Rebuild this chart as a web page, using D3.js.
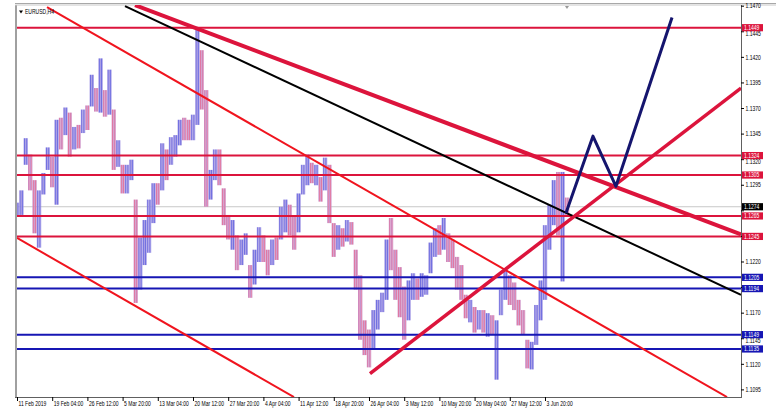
<!DOCTYPE html>
<html><head><meta charset="utf-8">
<script src="https://cdn.jsdelivr.net/npm/d3@7"></script>
<style>html,body{margin:0;padding:0;background:#fff;} svg{display:block;}</style>
</head><body><svg id="c" width="776" height="410"></svg>
<script>
// ---------- data ----------
const symbol = "EURUSD,H4";
const barStep = 4;            // H4 bars per sample
const firstOpen = 1.1268;
const hi = [1.1278,1.1290,1.1341,1.1325,1.1300,1.1290,1.1307,1.1332,1.1323,1.1359,
1.1361,1.1371,1.1366,1.1352,1.1354,1.1369,1.1373,1.1403,1.1390,1.1419,
1.1388,1.1408,1.1369,1.1339,1.1315,1.1315,1.1320,1.1281,1.1244,1.1261,
1.1281,1.1297,1.1297,1.1336,1.1330,1.1342,1.1344,1.1359,1.1361,1.1359,
1.1364,1.1447,1.1427,1.1388,1.1310,1.1330,1.1330,1.1292,1.1266,1.1261,
1.1246,1.1242,1.1248,1.1217,1.1232,1.1254,1.1246,1.1232,1.1242,1.1244,
1.1274,1.1281,1.1276,1.1264,1.1287,1.1315,1.1325,1.1317,1.1315,1.1303,
1.1322,1.1315,1.1258,1.1256,1.1253,1.1261,1.1259,1.1232,1.1207,1.1163,
1.1154,1.1173,1.1183,1.1190,1.1242,1.1263,1.1232,1.1215,1.1196,1.1202,
1.1209,1.1204,1.1209,1.1207,1.1239,1.1253,1.1256,1.1263,1.1248,1.1242,
1.1225,1.1217,1.1188,1.1183,1.1176,1.1173,1.1173,1.1170,1.1168,1.1163,
1.1193,1.1212,1.1207,1.1200,1.1183,1.1173,1.1144,1.1142,1.1178,1.1202,
1.1256,1.1276,1.1300,1.1308,1.1308,1.1283];
const lo = [1.1264,1.1266,1.1315,1.1290,1.1248,1.1234,1.1286,1.1310,1.1293,1.1276,
1.1330,1.1344,1.1323,1.1330,1.1331,1.1346,1.1349,1.1372,1.1367,1.1366,
1.1362,1.1364,1.1310,1.1313,1.1287,1.1287,1.1300,1.1180,1.1193,1.1217,
1.1229,1.1258,1.1276,1.1290,1.1300,1.1315,1.1323,1.1334,1.1339,1.1339,
1.1339,1.1354,1.1369,1.1274,1.1281,1.1300,1.1295,1.1256,1.1242,1.1232,
1.1212,1.1217,1.1227,1.1185,1.1198,1.1220,1.1220,1.1207,1.1217,1.1222,
1.1242,1.1249,1.1246,1.1232,1.1249,1.1286,1.1295,1.1297,1.1295,1.1279,
1.1290,1.1258,1.1225,1.1232,1.1235,1.1240,1.1237,1.1193,1.1144,1.1129,
1.1117,1.1134,1.1154,1.1171,1.1183,1.1212,1.1183,1.1166,1.1144,1.1163,
1.1183,1.1183,1.1186,1.1188,1.1209,1.1225,1.1227,1.1232,1.1220,1.1214,
1.1193,1.1183,1.1165,1.1161,1.1151,1.1154,1.1151,1.1147,1.1149,1.1105,
1.1168,1.1183,1.1178,1.1173,1.1158,1.1149,1.1116,1.1115,1.1139,1.1163,
1.1183,1.1232,1.1256,1.1246,1.1201,1.1266];
const cl = [1.1272,1.1288,1.1330,1.1295,1.1260,1.1270,1.1303,1.1325,1.1300,1.1345,
1.1340,1.1360,1.1330,1.1345,1.1340,1.1365,1.1358,1.1395,1.1375,1.1400,
1.1370,1.1395,1.1320,1.1325,1.1292,1.1300,1.1315,1.1190,1.1230,1.1250,
1.1270,1.1290,1.1285,1.1325,1.1310,1.1335,1.1335,1.1352,1.1348,1.1345,
1.1355,1.1420,1.1380,1.1290,1.1300,1.1320,1.1305,1.1262,1.1248,1.1250,
1.1220,1.1230,1.1240,1.1195,1.1225,1.1245,1.1235,1.1212,1.1236,1.1230,
1.1265,1.1275,1.1260,1.1240,1.1280,1.1308,1.1318,1.1305,1.1310,1.1285,
1.1315,1.1265,1.1232,1.1245,1.1240,1.1255,1.1245,1.1200,1.1160,1.1140,
1.1130,1.1165,1.1175,1.1180,1.1230,1.1225,1.1195,1.1175,1.1165,1.1190,
1.1200,1.1192,1.1198,1.1200,1.1232,1.1245,1.1238,1.1255,1.1228,1.1222,
1.1200,1.1188,1.1170,1.1175,1.1155,1.1165,1.1158,1.1160,1.1155,1.1160,
1.1188,1.1205,1.1195,1.1180,1.1162,1.1152,1.1125,1.1130,1.1172,1.1195,
1.1250,1.1265,1.1290,1.1260,1.1285,1.1274];

const xTickBars = [0,32,64,96,128,160,192,224,256,288,320,352,384,416,448,480];
const xTickLabels = ["11 Feb 2019","19 Feb 04:00","26 Feb 12:00","5 Mar 20:00","13 Mar 04:00",
  "20 Mar 12:00","27 Mar 20:00","4 Apr 04:00","11 Apr 12:00","18 Apr 20:00","26 Apr 04:00",
  "3 May 12:00","10 May 20:00","20 May 04:00","27 May 12:00","3 Jun 20:00"];
const yTicks = [1.1470,1.1445,1.1420,1.1395,1.1370,1.1345,1.1320,1.1295,1.1270,1.1245,
  1.1220,1.1195,1.1170,1.1145,1.1120,1.1095];
const resistLevels = [1.1449,1.1324,1.1305,1.1265,1.1245];
const supportLevels = [1.1205,1.1194,1.1149,1.1135];
const lastPrice = 1.1274;
// trend lines: [bar index, price] endpoints
const fallThick = [[107.3,1.1471],[658.2,1.1247]];
const fallBlack = [[98.2,1.1470],[658.2,1.1188]];
const channelUpper = [[27.3,1.1469],[645.5,1.1088]];
const channelLower = [[0,1.12435],[251.8,1.1088]];
const riseThick = [[320.9,1.1111],[658.2,1.1390]];
const projection = [[499.1,1.1268],[523.6,1.1343],[544.5,1.1294],[595.5,1.1459]];
const barDomain = [0,658.2];
const priceDomain = [1.108806,1.147117];

// ---------- drawing ----------
const L=17,R=741,T=5,B=397;
const svg=d3.select("#c");
const x=d3.scaleLinear().domain(barDomain).range([L,R]);
const y=d3.scaleLinear().domain(priceDomain).range([B,T]);
const FONT="'Liberation Sans', Arial, sans-serif";
const FS=6.3, SX=0.8;   // font size and horizontal condensing
const fmt=d3.format(".4f");

const defs=svg.append("defs");
defs.append("clipPath").attr("id","clip")
  .append("rect").attr("x",L).attr("y",T).attr("width",R-L).attr("height",B-T);
function stripes(id,c1,c2){
  const p=defs.append("pattern").attr("id",id).attr("patternUnits","userSpaceOnUse")
    .attr("width",2.2).attr("height",10);
  p.append("rect").attr("x",0).attr("y",0).attr("width",1.1).attr("height",10).attr("fill",c1);
  p.append("rect").attr("x",1.1).attr("y",0).attr("width",1.1).attr("height",10).attr("fill",c2);
}
stripes("upPat","#6d6de0","#a496e2");
stripes("dnPat","#e2759e","#c595cf");

svg.append("rect").attr("width",776).attr("height",410).attr("fill","#fff");

// frame
svg.append("line").attr("x1",L-1).attr("x2",L-1).attr("y1",T).attr("y2",B).attr("stroke","#a0a0a0").attr("stroke-width",2);
svg.append("line").attr("x1",L-2).attr("x2",776).attr("y1",T-1.5).attr("y2",T-1.5).attr("stroke","#a8a8a8").attr("stroke-width",1);
svg.append("line").attr("x1",L-2).attr("x2",776).attr("y1",T).attr("y2",T).attr("stroke","#c8c8c8").attr("stroke-width",1);

const g=svg.append("g").attr("clip-path","url(#clip)");

// last price line
g.append("line").attr("x1",L).attr("x2",R).attr("y1",y(lastPrice)).attr("y2",y(lastPrice))
  .attr("stroke","#c8c8c8").attr("stroke-width",1);

// price bars
const step = x(barStep)-x(0);
const bars = hi.map((h,i)=>({i, h, l:lo[i], c:cl[i], o: i===0?firstOpen:cl[i-1]}));
g.append("g").selectAll("rect").data(bars).join("rect")
  .attr("x",d=>x(d.i*barStep)-step/2)
  .attr("width",step)
  .attr("y",d=>y(d.h))
  .attr("height",d=>Math.max(1,y(d.l)-y(d.h)))
  .attr("fill",d=>d.c>=d.o?"url(#upPat)":"url(#dnPat)");

// horizontal levels
g.selectAll(".res").data(resistLevels).join("line").attr("class","res")
  .attr("x1",L).attr("x2",R).attr("y1",d=>y(d)).attr("y2",d=>y(d))
  .attr("stroke","#dc143c").attr("stroke-width",2);
g.selectAll(".sup").data(supportLevels).join("line").attr("class","sup")
  .attr("x1",L).attr("x2",R).attr("y1",d=>y(d)).attr("y2",d=>y(d))
  .attr("stroke","#1616b4").attr("stroke-width",2);

// trend lines
const ln=d3.line().x(d=>x(d[0])).y(d=>y(d[1]));
function tl(pts,color,w){ g.append("path").attr("d",ln(pts)).attr("fill","none").attr("stroke",color).attr("stroke-width",w).attr("stroke-linejoin","round"); }
tl(channelUpper,"#f0141e",2);
tl(channelLower,"#f0141e",2);
tl(fallBlack,"#000",2);
tl(fallThick,"#dc143c",4);
tl(riseThick,"#dc143c",3.5);
tl(projection,"#15156e",3);

// axes lines
svg.append("line").attr("x1",R+0.5).attr("x2",R+0.5).attr("y1",T).attr("y2",B).attr("stroke","#606060").attr("stroke-width",1);
svg.append("line").attr("x1",L-2).attr("x2",R+1).attr("y1",B+0.5).attr("y2",B+0.5).attr("stroke","#606060").attr("stroke-width",1);

function ctext(sel,px,py,str,fill,anchor){
  return sel.append("text").attr("transform",`translate(${px},${py}) scale(${SX},1)`)
    .attr("dy","0.35em").attr("font-family",FONT).attr("font-size",FS)
    .attr("fill",fill).attr("text-anchor",anchor||"start").text(str);
}

// right axis
const tags = resistLevels.map(v=>[v,"#dc143c"]).concat(supportLevels.map(v=>[v,"#1616b4"]),[[lastPrice,"#000"]]);
const ya=svg.append("g");
yTicks.forEach(v=>{
  ya.append("line").attr("x1",R).attr("x2",R+3).attr("y1",y(v)).attr("y2",y(v)).attr("stroke","#000").attr("stroke-width",1);
  const d = tags.map(t=>y(t[0])-y(v));
  const covered = d.some(e=>Math.abs(e)<2.5) || (d.some(e=>e<0&&e>-10) && d.some(e=>e>0&&e<10));
  const near = d.some(e=>Math.abs(e)<7);
  if(!covered) ctext(ya,R+4.5,y(v)+(near?2.2:0),fmt(v),"#000");
});
tags.forEach(([v,bg])=>{
  ya.append("rect").attr("x",R+1).attr("y",y(v)-3.6).attr("width",21).attr("height",7.2).attr("fill",bg);
  ctext(ya,R+3,y(v),fmt(v),"#fff");
});

// bottom axis
const xa=svg.append("g");
xTickBars.forEach((b,i)=>{
  xa.append("line").attr("x1",x(b)+0.5).attr("x2",x(b)+0.5).attr("y1",B).attr("y2",B+4).attr("stroke","#000").attr("stroke-width",1);
  ctext(xa,x(b)+1.5,B+7,xTickLabels[i],"#000");
});

// symbol title
svg.append("path").attr("d","M19,10.5 L23,10.5 L21,13.5 Z").attr("fill","#000");
ctext(svg,25,12,symbol,"#000");
// shift marker
svg.append("path").attr("d",`M${x(500)-2},6 L${x(500)+2},6 L${x(500)},9 Z`).attr("fill","#999");
</script></body></html>
